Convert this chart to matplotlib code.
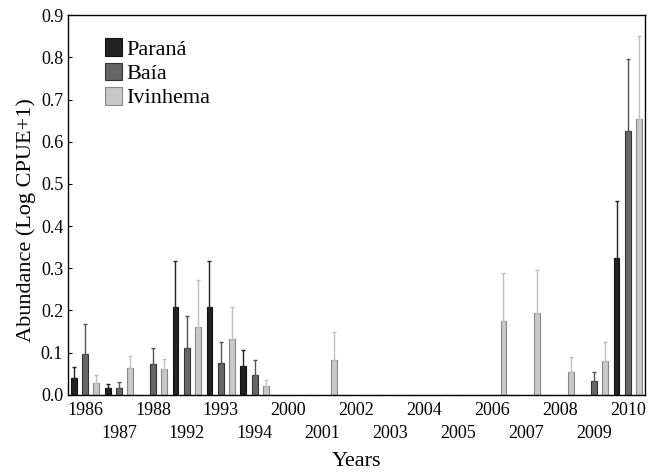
import numpy as np
import matplotlib.pyplot as plt

plt.rcParams['font.family'] = ['Liberation Serif', 'DejaVu Serif']

years = ["1986", "1987", "1988", "1992", "1993", "1994", "2000", "2001", "2002",
         "2003", "2004", "2005", "2006", "2007", "2008", "2009", "2010"]

parana = [0.040, 0.016, 0.0, 0.209, 0.209, 0.069, 0, 0, 0, 0, 0, 0, 0, 0, 0, 0, 0.324]
parana_err = [0.026, 0.009, 0.0, 0.109, 0.109, 0.037, 0, 0, 0, 0, 0, 0, 0, 0, 0, 0, 0.136]

baia = [0.096, 0.016, 0.073, 0.111, 0.076, 0.047, 0, 0, 0, 0, 0, 0, 0, 0, 0, 0.033, 0.625]
baia_err = [0.072, 0.014, 0.038, 0.075, 0.050, 0.036, 0, 0, 0, 0, 0, 0, 0, 0, 0, 0.022, 0.172]

ivinhema = [0.028, 0.064, 0.061, 0.160, 0.133, 0.021, 0, 0.083, 0, 0, 0, 0, 0.174, 0.194, 0.053, 0.081, 0.655]
ivinhema_err = [0.019, 0.029, 0.024, 0.112, 0.075, 0.014, 0, 0.066, 0, 0, 0, 0, 0.114, 0.102, 0.036, 0.044, 0.196]

fig = plt.figure(figsize=(6.48, 4.74), dpi=100)
ax = fig.add_axes([0.105, 0.167, 0.89, 0.801])

x = np.arange(len(years))
off = 0.333
w = 0.17

series = [
    (parana, parana_err, -off, "#222222", "#111111", "#222222", "Paraná"),
    (baia, baia_err, 0, "#666666", "#333333", "#555555", "Baía"),
    (ivinhema, ivinhema_err, off, "#c8c8c8", "#888888", "#c0c0c0", "Ivinhema"),
]
for vals, errs, dx, fc, ec, errc, lab in series:
    vals = np.array(vals)
    errs = np.array(errs)
    show = vals > 0
    ax.bar(x + dx, vals, width=w, color=fc, edgecolor=ec, linewidth=0.8, label=lab)
    ax.errorbar((x + dx)[show], vals[show], yerr=[np.zeros(show.sum()), errs[show]],
                fmt="none", ecolor=errc, elinewidth=1.0, capsize=1.5, capthick=1.0)

ax.set_xlim(-0.5, len(years) - 0.5)
ax.set_ylim(0, 0.9)
ax.set_yticks(np.arange(0, 0.91, 0.1))
ax.set_yticklabels([f"{v:.1f}" for v in np.arange(0, 0.91, 0.1)])
ax.set_xticks(x)
ax.set_xticklabels([y if i % 2 == 0 else "\n" + y for i, y in enumerate(years)])
for t in ax.get_xticklabels():
    t.set_linespacing(1.45)
ax.tick_params(axis="x", length=0, labelsize=13, pad=5.5)
ax.tick_params(axis="y", direction="in", length=3, labelsize=13)
for s in ax.spines.values():
    s.set_linewidth(1.0)

ax.set_xlabel("Years", fontsize=16, labelpad=7)
ax.set_ylabel("Abundance (Log CPUE+1)", fontsize=16)
ax.yaxis.set_label_coords(-0.055, 0.46)

ax.legend(loc="upper left", bbox_to_anchor=(0.0485, 0.962), frameon=False, fontsize=16,
          handlelength=0.75, handleheight=0.85, handletextpad=0.2, labelspacing=0.12,
          borderaxespad=0)

fig.savefig("out.png", dpi=100)
